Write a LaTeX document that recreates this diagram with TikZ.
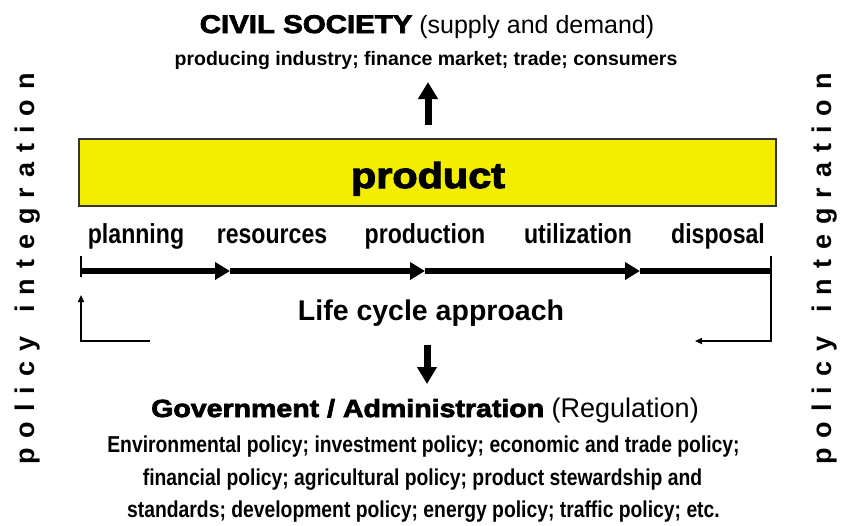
\documentclass[tikz,border=0pt]{standalone}
\usepackage{fontspec}
\setmainfont{Liberation Sans}
\newfontfamily\heavyfont[FakeBold=3,FakeStretch=1.15]{Liberation Sans Bold}
\newfontfamily\narrowfont[FakeStretch=0.84]{Liberation Sans Bold}
\newfontfamily\spacedfont[LetterSpace=37]{Liberation Sans Bold}
\usepackage{tikz}
\usetikzlibrary{arrows.meta}
\definecolor{prodyellow}{RGB}{243,237,0}

\begin{document}
\begin{tikzpicture}[
  x=1pt, y=-1pt,
  txt/.style={anchor=base,inner sep=0pt},
  phase/.style={txt,font=\narrowfont\fontsize{27.5}{32}\selectfont},
  gov/.style={txt,font=\narrowfont\fontsize{23}{27}\selectfont},
  side/.style={inner sep=0pt,rotate=90,font=\spacedfont\fontsize{27}{30}\selectfont},
  fat/.style={line width=7pt,-{Triangle[length=17pt,width=19pt]}},
  flow/.style={line width=6.5pt,-{Triangle[length=15pt,width=17pt]}},
  thin/.style={line width=1.6pt},
  back/.style={thin,-{Triangle[length=7pt,width=6pt]}}
]
\useasboundingbox (0,0) rectangle (841,525);

\node[txt,font=\fontsize{25}{30}\selectfont] (CS) at (427,33)
  {{\heavyfont\fontsize{25.6}{30}\selectfont CIVIL SOCIETY} (supply and demand)};
\node[txt,font=\bfseries\fontsize{19.5}{24}\selectfont] (CSsub) at (426,65)
  {producing industry; finance market; trade; consumers};

\draw[fill=prodyellow,draw=black!80,line width=1.5pt] (79,139) rectangle (776,206);
\node[txt,font=\heavyfont\fontsize{36}{40}\selectfont] (P) at (428,188) {product};

\coordinate (upfoot) at (428,125);
\coordinate (uptip) at (428,82);
\draw[fat] (upfoot) -- (uptip);

\node[phase] (ph1) at (136,243) {planning};
\node[phase] (ph2) at (272,243) {resources};
\node[phase] (ph3) at (425,243) {production};
\node[phase] (ph4) at (578,243) {utilization};
\node[phase] (ph5) at (718,243) {disposal};

% life cycle line
\coordinate (L0) at (81,271);
\coordinate (L1) at (230,271);
\coordinate (L2) at (425,271);
\coordinate (L3) at (640,271);
\coordinate (L4) at (771,271);
\draw[flow] (L0) -- (L1);
\draw[flow] (L1) -- (L2);
\draw[flow] (L2) -- (L3);
\draw[line width=6.5pt] (L3) -- (L4);
\draw[thin] (81,256) -- (81,277);

% feedback
\coordinate (RB) at (771,256);
\coordinate (RC) at (771,341);
\coordinate (RE) at (695,341);
\draw[back] (RB) -- (RC) -- (RE);
\coordinate (LS) at (150,341);
\coordinate (LC) at (81,341);
\coordinate (LE) at (81,295);
\draw[back] (LS) -- (LC) -- (LE);

\node[txt,font=\bfseries\fontsize{28.5}{32}\selectfont] (LCA) at (431,320) {Life cycle approach};

\coordinate (dnfoot) at (427,345);
\coordinate (dntip) at (427,384);
\draw[fat] (dnfoot) -- (dntip);

\node[txt,font=\fontsize{27}{30}\selectfont] (G) at (425,417)
  {{\heavyfont\fontsize{24.8}{30}\selectfont Government / Administration} (Regulation)};
\node[gov] (G1) at (423.5,452) {Environmental policy; investment policy; economic and trade policy;};
\node[gov] (G2) at (422.5,485) {financial policy; agricultural policy; product stewardship and};
\node[gov] (G3) at (423.5,517) {standards; development policy; energy policy; traffic policy; etc.};

\node[side] (PIl) at (28,269) {policy\hspace{24pt}integration};
\node[side] (PIr) at (825,269) {policy\hspace{24pt}integration};
\end{tikzpicture}
\end{document}
